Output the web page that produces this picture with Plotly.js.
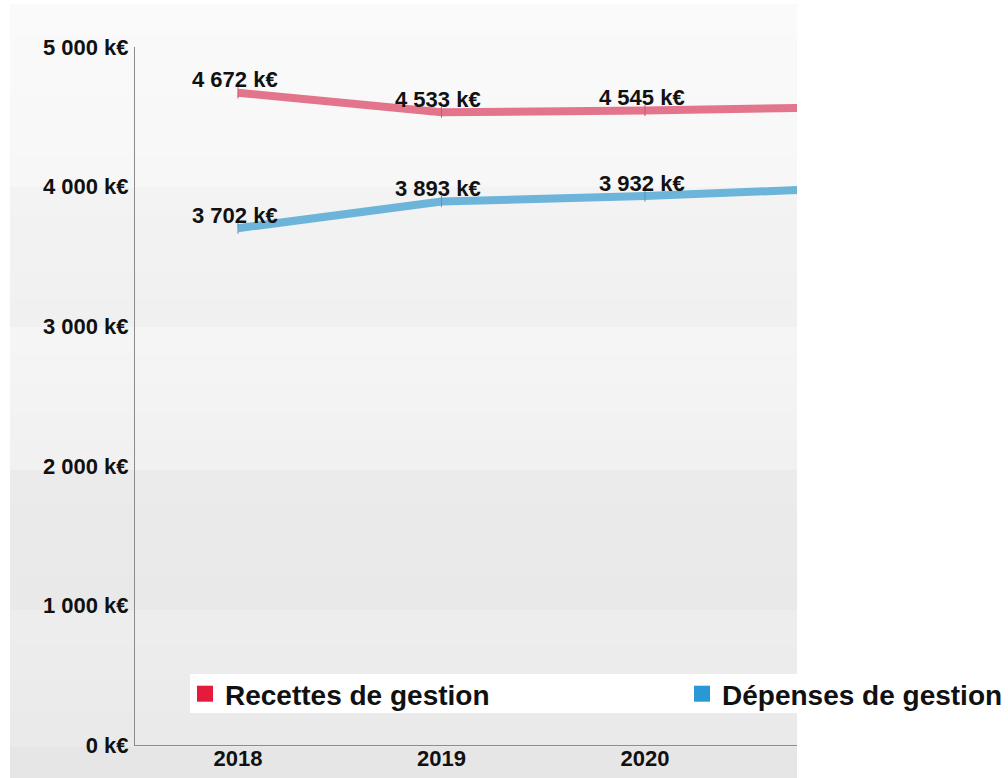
<!DOCTYPE html>
<html>
<head>
<meta charset="utf-8">
<script src="https://cdn.plot.ly/plotly-3.0.1.min.js"></script>
<style>html,body{margin:0;padding:0;background:#fff;}#chart{width:1008px;height:778px;}</style>
</head>
<body>
<div id="chart"></div>
<script>
// ---- data ----
const years = ['2018', '2019', '2020', '2021'];
const recettes = [4672, 4533, 4545, 4570];
const depenses = [3702, 3893, 3932, 3990];
const seriesNames = ['Recettes de gestion', 'Dépenses de gestion'];
const yTicks = [0, 1000, 2000, 3000, 4000, 5000];
const yTickLabels = ['0 k€', '1 000 k€', '2 000 k€', '3 000 k€', '4 000 k€', '5 000 k€'];

// ---- layout geometry (pixels) ----
const W = 1008, H = 778;
const L = 135, R = 797, T = 47, B = 745;
const pw = R - L, ph = B - T;
const px = x => (x - L) / pw;
const py = y => (B - y) / ph;
const xRange = [-0.506, 2.747];

const FONT = 'Liberation Sans, Arial, sans-serif';
const fmt = v => String(Math.round(v)).replace(/\B(?=(\d{3})+(?!\d))/g, ' ') + ' k€';

// background gradient bands (style only)
const shapes = [];
function band(y0, y1, c0, c1, n) {
  for (let i = 0; i < n; i++) {
    const a = y0 + (y1 - y0) * i / n, b = y0 + (y1 - y0) * (i + 1) / n + 1;
    const c = Math.round(c0 + (c1 - c0) * i / Math.max(1, n - 1));
    shapes.push({type: 'rect', xref: 'paper', yref: 'paper', layer: 'below',
      x0: px(10), x1: px(797), y0: py(b), y1: py(a),
      fillcolor: `rgb(${c},${c},${c})`, line: {width: 0}});
  }
}
band(4, 187, 250, 247, 6);
band(187, 327, 243, 240, 5);
band(327, 470, 245, 241, 5);
band(470, 610, 235, 233, 4);
band(610, 747, 237, 234, 4);
band(747, 778, 230, 230, 1);
// white legend strip
shapes.push({type: 'rect', xref: 'paper', yref: 'paper', layer: 'above',
  x0: px(190), x1: px(1008), y0: py(713), y1: py(674),
  fillcolor: '#ffffff', line: {width: 0}});

const lineColors = ['#e2758c', '#6cb4d9'];
const tickMarkColors = ['#c9566f', '#4f98c0'];
const legendColors = ['#e51b3e', '#2a98d4'];

function lineTrace(vals, i) {
  return {
    x: years, y: vals, type: 'scatter', mode: 'lines+markers',
    line: {color: lineColors[i], width: 8},
    marker: {symbol: 'line-ns', size: 8, line: {width: 1, color: tickMarkColors[i]}, color: tickMarkColors[i]},
    showlegend: false, cliponaxis: true, hoverinfo: 'skip'
  };
}
function legendTrace(i, leg) {
  return {
    x: [null], y: [null], type: 'scatter', mode: 'markers', name: seriesNames[i],
    marker: {symbol: 'square', size: 16, color: legendColors[i]},
    legend: leg, showlegend: true, hoverinfo: 'skip'
  };
}

const data = [lineTrace(recettes, 0), lineTrace(depenses, 1),
  legendTrace(0, 'legend'), legendTrace(1, 'legend2')];

// value labels (category axis: x given as category index)
const annotations = [];
[recettes, depenses].forEach(vals => {
  vals.forEach((v, j) => {
    if (j > xRange[1]) return; // beyond visible axis range
    annotations.push({
      x: j, y: v, xref: 'x', yref: 'y', text: fmt(v), showarrow: false,
      xanchor: 'center', yanchor: 'middle', xshift: -3, yshift: 13,
      font: {family: FONT, size: 22, color: '#111', weight: 700}
    });
  });
});

const legendBase = {
  orientation: 'h', yanchor: 'middle',
  bgcolor: 'rgba(0,0,0,0)', borderwidth: 0,
  font: {family: FONT, size: 28, color: '#111', weight: 700},
  itemsizing: 'trace'
};

const layout = {
  width: W, height: H,
  margin: {l: L, r: W - R, t: T, b: H - B, pad: 0, autoexpand: false},
  paper_bgcolor: '#ffffff', plot_bgcolor: 'rgba(0,0,0,0)',
  showlegend: true,
  legend: Object.assign({x: px(185), xanchor: 'left', y: py(694)}, legendBase),
  legend2: Object.assign({x: px(1008), xanchor: 'right', y: py(694)}, legendBase),
  xaxis: {
    type: 'category', categoryorder: 'array', categoryarray: years,
    range: xRange, showgrid: false, zeroline: false,
    showline: true, linecolor: '#8c8c8c', linewidth: 1, ticks: '',
    ticklabelstandoff: -6,
    tickfont: {family: FONT, size: 22, color: '#111', weight: 700},
    fixedrange: true
  },
  yaxis: {
    range: [0, 5000], tickmode: 'array', tickvals: yTicks, ticktext: yTickLabels,
    showgrid: false, zeroline: false, showline: true, linecolor: '#8c8c8c', linewidth: 1,
    ticks: '', ticklabelstandoff: 1,
    tickfont: {family: FONT, size: 22, color: '#111', weight: 700},
    fixedrange: true
  },
  shapes: shapes,
  annotations: annotations,
  hovermode: false
};

Plotly.newPlot('chart', data, layout, {displayModeBar: false, staticPlot: true});
</script>
</body>
</html>
